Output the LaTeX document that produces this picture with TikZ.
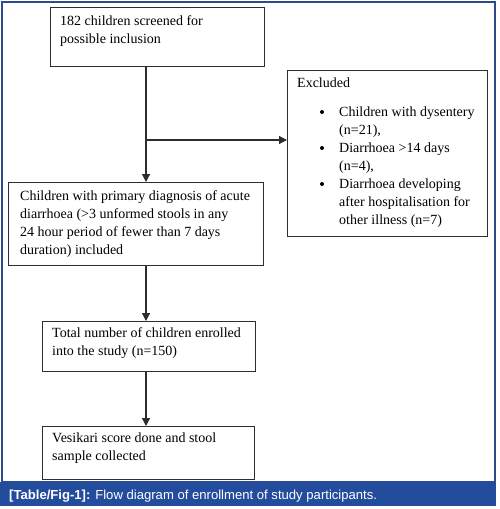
\documentclass[tikz,border=0pt]{standalone}
\usepackage{fontspec}
\setmainfont{Liberation Serif}
\newfontfamily\capfont{Liberation Sans}
\usetikzlibrary{arrows.meta}
\definecolor{frameblue}{RGB}{44,74,140}
\definecolor{barblue}{RGB}{36,76,156}
\definecolor{boxline}{RGB}{45,45,45}
\begin{document}
\begin{tikzpicture}[x=1pt,y=-1pt,
  boxrect/.style={draw=boxline,line width=1.2pt},
  boxtext/.style={anchor=base west,align=left,inner sep=0pt,font=\fontsize{14}{18}\selectfont},
  flow/.style={draw=boxline,line width=1.2pt,-{Triangle[length=8pt,width=8pt]}},
  link/.style={draw=boxline,line width=1.2pt}]
\useasboundingbox (0,0) rectangle (500,509);
% frame and caption bar
\draw[frameblue,line width=1.3pt] (2,2) rectangle (495,482);
\fill[barblue] (0,482) rectangle (496,506);
\node[anchor=base west,inner sep=0pt,text=white,font=\capfont\fontsize{13.1}{15}\selectfont] (cap) at (9,499) {\textbf{[Table/Fig-1]:} Flow diagram of enrollment of study participants.};
% boxes
\node[boxrect,anchor=north west,minimum width=214pt,minimum height=59pt,inner sep=0pt] (b1) at (50,7) {};
\node[boxrect,anchor=north west,minimum width=255pt,minimum height=83pt,inner sep=0pt] (b2) at (8,182) {};
\node[boxrect,anchor=north west,minimum width=213pt,minimum height=50pt,inner sep=0pt] (b3) at (42,321) {};
\node[boxrect,anchor=north west,minimum width=212pt,minimum height=53pt,inner sep=0pt] (b4) at (42,426) {};
\node[boxrect,anchor=north west,minimum width=200pt,minimum height=166pt,inner sep=0pt] (ex) at (287,70) {};
% texts (anchor = baseline of last line)
\node[boxtext] (t1) at (60,43) {182 children screened for\\possible inclusion};
\node[boxtext] (t2) at (20,254) {Children with primary diagnosis of acute\\diarrhoea (>3 unformed stools in any\\24 hour period of fewer than 7 days\\duration) included};
\node[boxtext] (t3) at (52,355) {Total number of children enrolled\\into the study (n=150)};
\node[boxtext] (t4) at (52,460) {Vesikari score done and stool\\sample collected};
\node[boxtext] (tx) at (297,87) {Excluded};
\node[boxtext] (tb) at (339,224) {Children with dysentery\\(n=21),\\Diarrhoea >14 days\\(n=4),\\Diarrhoea developing\\after hospitalisation for\\other illness (n=7)};
\foreach \yy/\nm in {112/da,148/db,184/dc}
  \fill[black] (322,\yy) circle (2pt) coordinate (\nm);
% connectors
\coordinate (br) at (146,140);
\draw[flow] (b1.south -| br) -- (b2.north -| br);
\draw[flow] (br) -- (ex.west |- br);
\draw[flow] (b2.south -| br) -- (b3.north -| br);
\draw[flow] (b3.south -| br) -- (b4.north -| br);
\end{tikzpicture}
\end{document}
